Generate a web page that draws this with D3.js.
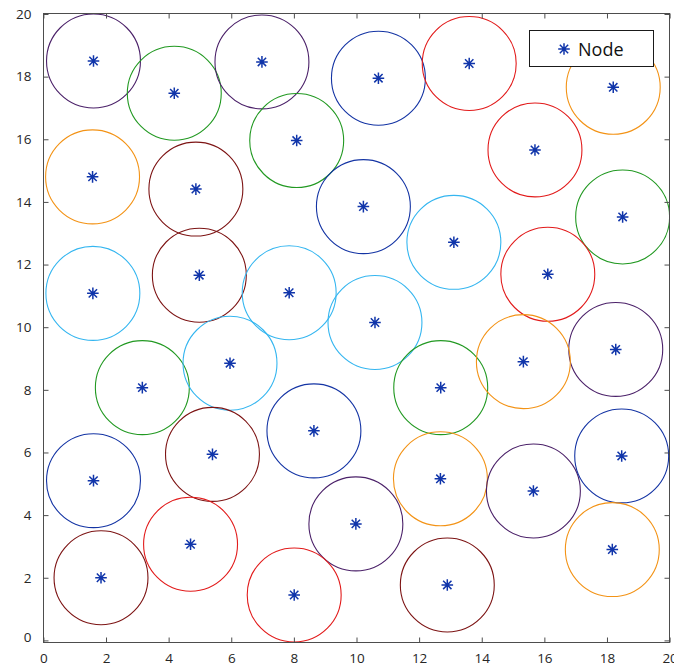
<!DOCTYPE html>
<html>
<head>
<meta charset="utf-8">
<script src="https://cdn.jsdelivr.net/npm/d3@7"></script>
<style>
  html, body { margin: 0; padding: 0; background: #fff; }
  svg { display: block; }
</style>
</head>
<body>
<svg id="chart" width="674" height="667"></svg>
<script>
// ---- data ----
const nodeX = [1.60, 4.18, 6.98, 10.70, 13.60, 18.20, 8.09, 1.57, 4.87, 15.70, 10.22, 18.50,
  13.11, 1.58, 4.98, 7.85, 16.11, 10.59, 18.28, 3.16, 5.96, 12.69, 15.33, 8.64, 1.60, 5.40,
  12.68, 15.65, 18.47, 9.98, 4.70, 18.17, 1.84, 8.01, 12.90];
const nodeY = [18.50, 17.47, 18.47, 17.95, 18.42, 17.66, 15.96, 14.80, 14.41, 15.66, 13.85, 13.52,
  12.71, 11.08, 11.66, 11.10, 11.69, 10.15, 9.29, 8.07, 8.85, 8.07, 8.90, 6.69, 5.10, 5.94,
  5.16, 4.77, 5.89, 3.72, 3.07, 2.90, 2.00, 1.45, 1.77];
const nodeGroup = ["purple", "green", "purple", "blue", "red", "orange", "green", "orange", "darkred",
  "red", "blue", "green", "lightblue", "lightblue", "darkred", "lightblue", "red", "lightblue",
  "purple", "green", "lightblue", "green", "orange", "blue", "blue", "darkred", "orange", "purple",
  "blue", "purple", "red", "orange", "darkred", "red", "darkred"];
const rangeRadius = [1.5];
const xTicks = [0, 2, 4, 6, 8, 10, 12, 14, 16, 18, 20];
const yTicks = [0, 2, 4, 6, 8, 10, 12, 14, 16, 18, 20];
const legendLabel = ["Node"];

// ---- layout ----
const svg = d3.select("#chart");
const pLeft = 43.4, pRight = 669.6, pTop = 14.0, pBottom = 640.4;
const boxBottom = 642.5;
const x = d3.scaleLinear().domain([0, 20]).range([pLeft, pRight]);
const y = d3.scaleLinear().domain([0, 20]).range([pBottom, pTop]);
const color = d3.scaleOrdinal()
  .domain(["purple", "green", "blue", "red", "orange", "darkred", "lightblue"])
  .range(["#4b2169", "#229922", "#1434a4", "#e21b1b", "#f39316", "#7d1414", "#35b6f0"]);
const axisColor = "#4d4d4d";
const font = "'Open Sans', 'Noto Sans', sans-serif";

svg.append("defs").append("clipPath").attr("id", "plotclip")
  .append("rect").attr("x", 43.5).attr("y", 13.5).attr("width", 626).attr("height", boxBottom - 13.5);

const nodes = nodeX.map((d, i) => ({ x: d, y: nodeY[i], g: nodeGroup[i] }));

// circles
const r = rangeRadius[0];
svg.append("g").attr("clip-path", "url(#plotclip)")
  .selectAll("ellipse").data(nodes).join("ellipse")
  .attr("cx", d => x(d.x)).attr("cy", d => y(d.y))
  .attr("rx", x(r) - x(0)).attr("ry", y(0) - y(r))
  .attr("fill", "none").attr("stroke", d => color(d.g)).attr("stroke-width", 1.1);

// asterisk marker path
function star(cx, cy, s) {
  const d = s * 0.72;
  return `M${cx - s},${cy}L${cx + s},${cy}M${cx},${cy - s}L${cx},${cy + s}` +
         `M${cx - d},${cy - d}L${cx + d},${cy + d}M${cx - d},${cy + d}L${cx + d},${cy - d}`;
}
const markerColor = "#1035aa";
svg.append("g").selectAll("path").data(nodes).join("path")
  .attr("d", d => star(x(d.x), y(d.y), 5.8))
  .attr("stroke", markerColor).attr("stroke-width", 1.5).attr("fill", "none");

// axes box
svg.append("rect").attr("x", 43.5).attr("y", 13.5).attr("width", 626).attr("height", boxBottom - 13.5)
  .attr("fill", "none").attr("stroke", axisColor).attr("stroke-width", 1);

const tl = 5;
const xb = svg.append("g").attr("transform", `translate(0,${boxBottom})`)
  .call(d3.axisBottom(x).tickValues(xTicks).tickFormat(d3.format("d")).tickSizeInner(-tl).tickSizeOuter(0).tickPadding(11));
const xt = svg.append("g").attr("transform", `translate(0,13.5)`)
  .call(d3.axisTop(x).tickValues(xTicks).tickFormat("").tickSizeInner(-tl).tickSizeOuter(0));
const yl = svg.append("g").attr("transform", `translate(43.5,0)`)
  .call(d3.axisLeft(y).tickValues(yTicks).tickFormat(d3.format("d")).tickSizeInner(-tl).tickSizeOuter(0).tickPadding(12));
const yr = svg.append("g").attr("transform", `translate(669.5,0)`)
  .call(d3.axisRight(y).tickValues(yTicks).tickFormat("").tickSizeInner(-tl).tickSizeOuter(0));
[xb, xt, yl, yr].forEach(g => {
  g.select(".domain").remove();
  g.selectAll(".tick line").attr("stroke", axisColor);
  g.selectAll(".tick text").attr("fill", "#262626").style("font-family", font).style("font-size", "13.5px");
});
yl.selectAll(".tick").filter(d => d === 0).select("text").attr("dy", "0.1em");

// legend
const lg = svg.append("g");
lg.append("rect").attr("x", 529.5).attr("y", 30.5).attr("width", 124).attr("height", 36)
  .attr("fill", "#fff").attr("stroke", "#1a1a1a").attr("stroke-width", 1);
lg.append("path").attr("d", star(564, 49, 5.8)).attr("stroke", markerColor).attr("stroke-width", 1.5).attr("fill", "none");
lg.append("text").attr("x", 578).attr("y", 55.5).text(legendLabel[0])
  .attr("fill", "#111").style("font-family", font).style("font-size", "18px");
</script>
</body>
</html>
